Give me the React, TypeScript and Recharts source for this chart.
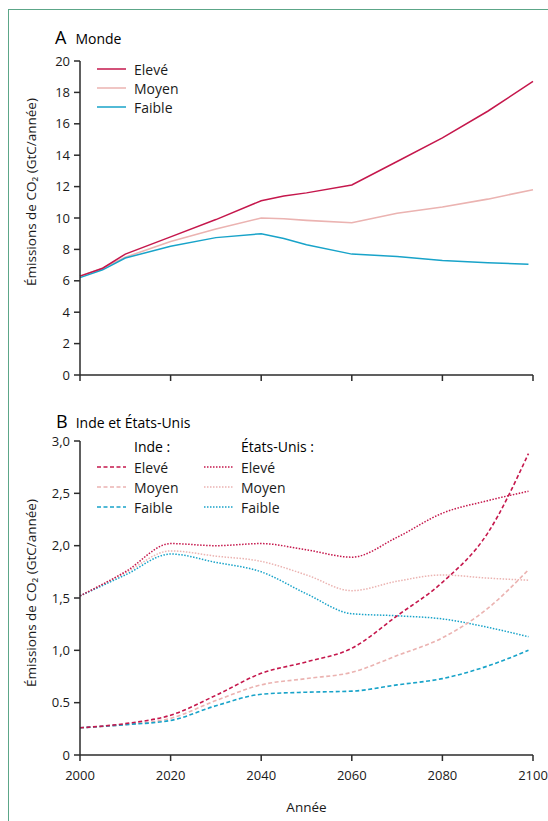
import { Line, LineChart, XAxis, YAxis } from 'recharts'

// Panel A : Monde
const yearsA = [2000, 2005, 2010, 2020, 2030, 2040, 2045, 2050, 2060, 2070, 2080, 2090, 2100]
const yearsAFaible = [2000, 2005, 2010, 2020, 2030, 2040, 2045, 2050, 2060, 2070, 2080, 2090, 2099]
const mondeEleve = [6.3, 6.8, 7.7, 8.8, 9.9, 11.1, 11.4, 11.6, 12.1, 13.6, 15.1, 16.8, 18.7]
const mondeMoyen = [6.3, 6.8, 7.5, 8.5, 9.3, 10.0, 9.95, 9.85, 9.7, 10.3, 10.7, 11.2, 11.8]
const mondeFaible = [6.2, 6.7, 7.45, 8.2, 8.75, 9.0, 8.7, 8.3, 7.7, 7.55, 7.3, 7.15, 7.05]

// Panel B : Inde et États-Unis
const yearsB = [2000, 2010, 2020, 2030, 2040, 2050, 2060, 2070, 2080, 2090, 2099]
const indeEleve = [0.26, 0.3, 0.38, 0.57, 0.78, 0.89, 1.02, 1.33, 1.65, 2.12, 2.88]
const indeMoyen = [0.26, 0.29, 0.35, 0.52, 0.67, 0.73, 0.79, 0.95, 1.12, 1.4, 1.77]
const indeFaible = [0.26, 0.29, 0.33, 0.47, 0.58, 0.6, 0.61, 0.67, 0.73, 0.85, 1.0]
const usEleve = [1.52, 1.75, 2.02, 2.0, 2.02, 1.96, 1.89, 2.08, 2.31, 2.43, 2.52]
const usMoyen = [1.52, 1.74, 1.95, 1.9, 1.85, 1.72, 1.57, 1.66, 1.72, 1.69, 1.67]
const usFaible = [1.52, 1.72, 1.92, 1.84, 1.75, 1.54, 1.35, 1.33, 1.3, 1.22, 1.13]

const xTicks = [2000, 2020, 2040, 2060, 2080, 2100]
const yTicksA = [0, 2, 4, 6, 8, 10, 12, 14, 16, 18, 20]
const yTicksB = [0, 0.5, 1, 1.5, 2, 2.5, 3]
const yLabelsB = ['0', '0.5', '1,0', '1,5', '2,0', '2,5', '3,0']

const RED = '#c5174c'
const PINK = '#ebb3b1'
const CYAN = '#18a3c9'
const AXIS = '#2b2b2b'
const FONT = '"Open Sans", sans-serif'

const toPoints = (years: number[], values: number[]) =>
  years.map((year, i) => ({ year, v: values[i] }))

const axisProps = {
  axisLine: { stroke: AXIS, strokeWidth: 1.5 },
  tickLine: { stroke: AXIS, strokeWidth: 1.5 },
  tickSize: 6,
}
const tickStyle = { fontSize: 13, fill: '#1a1a1a', fontFamily: FONT }

const yTitle = 'Émissions de CO₂ (GtC/année)'

function YTitle({ cx, cy }: { cx: number; cy: number }) {
  return (
    <div
      style={{
        position: 'absolute',
        left: cx,
        top: cy,
        transform: 'translate(-50%, -50%) rotate(-90deg)',
        whiteSpace: 'nowrap',
        fontSize: 13.5,
        color: '#1a1a1a',
      }}
    >
      {yTitle}
    </div>
  )
}

function LegendRow({ top, left, color, dash, label }: {
  top: number; left: number; color: string; dash?: string; label: string
}) {
  return (
    <div style={{ position: 'absolute', top: top - 10, left, height: 20, display: 'flex', alignItems: 'center' }}>
      <svg width={30} height={20}>
        <line x1={0} y1={10} x2={29} y2={10} stroke={color} strokeWidth={1.5} strokeDasharray={dash} />
      </svg>
      <span style={{ marginLeft: 7, fontSize: 14, color: '#1a1a1a' }}>{label}</span>
    </div>
  )
}

// keeps the tick marks but draws no label
const NoLabel = () => <g />

export default function App() {
  return (
    <div
      style={{
        position: 'absolute',
        left: 0,
        top: 0,
        width: 548,
        height: 821,
        background: '#fff',
        fontFamily: FONT,
        overflow: 'hidden',
      }}
    >
      <div
        style={{
          position: 'absolute',
          left: 8,
          top: 9,
          right: 0,
          bottom: 0,
          borderTop: '1.5px solid #5ca688',
          borderLeft: '1.5px solid #5ca688',
        }}
      />

      {/* Panel A */}
      <div style={{ position: 'absolute', left: 55, top: 25, display: 'flex', alignItems: 'baseline' }}>
        <span style={{ fontSize: 18 }}>A</span>
        <span style={{ fontSize: 14, marginLeft: 9 }}>Monde</span>
      </div>
      <div style={{ position: 'absolute', left: 0, top: 0 }}>
        <LineChart width={548} height={400} margin={{ top: 61, right: 15, bottom: 0, left: 0 }}>
          <XAxis
            dataKey="year"
            type="number"
            domain={[2000, 2100]}
            ticks={xTicks}
            height={25}
            tick={NoLabel}
            interval={0}
            {...axisProps}
          />
          <YAxis
            type="number"
            domain={[0, 20]}
            ticks={yTicksA}
            width={80}
            tick={tickStyle}
            tickMargin={4}
            interval={0}
            {...axisProps}
          />
          <Line data={toPoints(yearsA, mondeMoyen)} dataKey="v" stroke={PINK} strokeWidth={1.6} dot={false} isAnimationActive={false} />
          <Line data={toPoints(yearsAFaible, mondeFaible)} dataKey="v" stroke={CYAN} strokeWidth={1.5} dot={false} isAnimationActive={false} />
          <Line data={toPoints(yearsA, mondeEleve)} dataKey="v" stroke={RED} strokeWidth={1.5} dot={false} isAnimationActive={false} />
        </LineChart>
      </div>
      <YTitle cx={31} cy={192} />
      <LegendRow top={69} left={97} color={RED} label="Elevé" />
      <LegendRow top={88} left={97} color={PINK} label="Moyen" />
      <LegendRow top={107} left={97} color={CYAN} label="Faible" />

      {/* Panel B */}
      <div style={{ position: 'absolute', left: 56, top: 409, display: 'flex', alignItems: 'baseline' }}>
        <span style={{ fontSize: 18 }}>B</span>
        <span style={{ fontSize: 14, marginLeft: 8 }}>Inde et États-Unis</span>
      </div>
      <div style={{ position: 'absolute', left: 0, top: 400 }}>
        <LineChart width={548} height={421} margin={{ top: 41, right: 15, bottom: 0, left: 0 }}>
          <XAxis
            dataKey="year"
            type="number"
            domain={[2000, 2100]}
            ticks={xTicks}
            height={66}
            tick={tickStyle}
            tickMargin={10}
            interval={0}
            label={{ value: 'Année', position: 'insideBottom', offset: 9, fontSize: 13.5, fill: '#1a1a1a', fontFamily: FONT }}
            {...axisProps}
          />
          <YAxis
            type="number"
            domain={[0, 3]}
            ticks={yTicksB}
            width={80}
            tick={tickStyle}
            tickMargin={4}
            interval={0}
            tickFormatter={(v: number) => yLabelsB[yTicksB.indexOf(v)] ?? String(v)}
            {...axisProps}
          />
          <Line data={toPoints(yearsB, usMoyen)} dataKey="v" type="monotone" stroke={PINK} strokeWidth={1.5} strokeDasharray="1.5 1.5" dot={false} isAnimationActive={false} />
          <Line data={toPoints(yearsB, usFaible)} dataKey="v" type="monotone" stroke={CYAN} strokeWidth={1.5} strokeDasharray="1.5 1.5" dot={false} isAnimationActive={false} />
          <Line data={toPoints(yearsB, usEleve)} dataKey="v" type="monotone" stroke={RED} strokeWidth={1.5} strokeDasharray="1.5 1.5" dot={false} isAnimationActive={false} />
          <Line data={toPoints(yearsB, indeMoyen)} dataKey="v" type="monotone" stroke={PINK} strokeWidth={1.6} strokeDasharray="4 2.5" dot={false} isAnimationActive={false} />
          <Line data={toPoints(yearsB, indeFaible)} dataKey="v" type="monotone" stroke={CYAN} strokeWidth={1.6} strokeDasharray="4 2.5" dot={false} isAnimationActive={false} />
          <Line data={toPoints(yearsB, indeEleve)} dataKey="v" type="monotone" stroke={RED} strokeWidth={1.6} strokeDasharray="4 2.5" dot={false} isAnimationActive={false} />
        </LineChart>
      </div>
      <YTitle cx={31} cy={593} />
      <div style={{ position: 'absolute', left: 134, top: 437, fontSize: 14, lineHeight: '20px' }}>Inde :</div>
      <div style={{ position: 'absolute', left: 241, top: 437, fontSize: 14, lineHeight: '20px' }}>États-Unis :</div>
      <LegendRow top={467} left={97} color={RED} dash="4 2.5" label="Elevé" />
      <LegendRow top={487} left={97} color={PINK} dash="4 2.5" label="Moyen" />
      <LegendRow top={507} left={97} color={CYAN} dash="4 2.5" label="Faible" />
      <LegendRow top={467} left={204} color={RED} dash="1.5 1.5" label="Elevé" />
      <LegendRow top={487} left={204} color={PINK} dash="1.5 1.5" label="Moyen" />
      <LegendRow top={507} left={204} color={CYAN} dash="1.5 1.5" label="Faible" />
    </div>
  )
}
